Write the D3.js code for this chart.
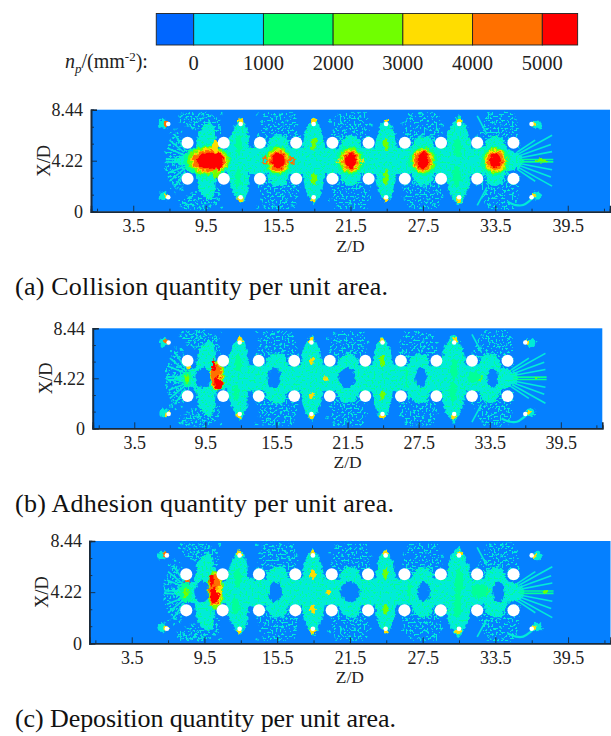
<!DOCTYPE html>
<html>
<head>
<meta charset="utf-8">
<script src="https://cdn.jsdelivr.net/npm/d3@7"></script>
<style>
  html, body { margin: 0; padding: 0; background: #fff; }
  text { font-family: "Liberation Serif", serif; fill: #222; }
</style>
</head>
<body>
<div id="chart"></div>
<script>
// legend
const legendBreaks = [0, 1000, 2000, 3000, 4000, 5000];
const legendLimits = [-537, 5507];
const legendColors = ['#0066ff', '#00d8ff', '#00ff66', '#70ff00', '#ffdd00', '#ff7000', '#ff0000'];
// the field looks softer than the legend once the picture is blurred
const fieldColors = ['#0580ff', '#00ecd8', '#00ff98', '#70ff00', '#ffdd00', '#ff7000', '#ff0000'];

// axes
const zTicks = [3.5, 9.5, 15.5, 21.5, 27.5, 33.5, 39.5];
const zMinor = [0.5, 6.5, 12.5, 18.5, 24.5, 30.5, 36.5, 42.5];
const xTicks = [0, 4.22, 8.44];
const xMinor = [1.41, 2.81, 5.63, 7.03];
const centerX = 4.22;

// film holes
const holeZ = [8, 11, 14, 17, 20, 23, 26, 29, 32, 35];
const holeX = [5.7, 2.72];
const smallHoleZ = [6.4, 12.4, 18.45, 24.45, 30.5, 36.5];
const smallHoleX = [7.25, 1.2];

const panelNames = ['a', 'b', 'c'];
const captions = [
  '(a) Collision quantity per unit area.',
  '(b) Adhesion quantity per unit area.',
  '(c) Deposition quantity per unit area.'
];

// solid cyan regions, upper half as [z, distance from centre line], mirrored when drawn
const bodies = [
  [[6.8,0],[7.4,0.35],[8,0.6],[8.7,0.9],[8.8,1.7],[8.9,2.4],[9.4,3],[9.8,3.3],[10.2,2.9],[10.3,2.2],[10.4,1],[11.4,0.9],[11.4,0]],
  [[11.3,0],[11.35,1.2],[11.6,2.2],[12,3],[12.4,3.6],[12.8,3.1],[13.05,2.2],[13.1,1.2],[13.2,0]],
  [[13,0],[13,1.1],[14.6,1.1],[14.7,1.7],[15.2,2.1],[16,2.1],[16.3,1.7],[16.4,1.1],[17.8,1.1],[17.8,0]],
  [[17.5,0],[17.55,1.2],[17.7,2.2],[18,3],[18.45,3.6],[18.9,3],[19.2,2.2],[19.4,1.2],[19.4,0]],
  [[19.2,0],[19.2,1.1],[20.6,1.1],[20.8,1.7],[21.3,2.1],[22,2],[22.3,1.6],[22.4,1.1],[23.7,1.1],[23.7,0]],
  [[23.6,0],[23.6,1.2],[23.75,2.2],[24.05,3],[24.45,3.5],[24.85,3],[25.15,2.2],[25.3,1.2],[25.4,0]],
  [[25.2,0],[25.2,1.1],[26.6,1.1],[26.8,1.7],[27.3,2.1],[28,2],[28.3,1.6],[28.4,1.1],[29.6,1.1],[29.6,0]],
  [[29.4,0],[29.4,1.2],[29.6,2.4],[30,3.2],[30.5,3.8],[30.9,3.1],[31.3,2.2],[31.5,1.2],[31.5,0]],
  [[31.3,0],[31.3,1.1],[32.6,1.1],[32.8,1.8],[33.3,2.1],[34,2],[34.3,1.4],[34.5,0.9],[35.3,0.7],[35.8,0.3],[35.9,0]]
];

// thinly scattered regions as closed [z, d] outlines, drawn on both sides of the centre line
const sparseZones = [
  [[6.1,0],[6.2,1],[6.9,2.4],[7.9,1.6],[8.3,1],[8.3,0]],
  [[7.2,3.2],[7.5,4],[9.5,4.1],[10.7,3.4],[10.8,2],[9.6,2.6],[8.4,2.7],[8,3]],
  [[13.4,1],[13.8,2.2],[14.4,4],[16.9,4],[17.3,2.4],[17.6,1]],
  [[19.5,1],[19.9,2.2],[20.3,4],[22.9,4],[23.1,2.4],[23.5,1]],
  [[25.5,1],[25.8,2.2],[26.3,4],[28.8,4],[29.1,2.4],[29.4,1]],
  [[31.6,1],[32,2],[32.8,4],[35,4.1],[35.4,3],[35.6,1]]
];

// scattered particle spots, upper half as [z, distance from centre line]
const specks = [
  [6.2,0.6],[6.4,0.2],[6.5,1.3],[6.7,0.8],[6.8,1.9],[6.9,0.3],[7,1.4],[7.1,2.2],[7.2,0.9],[7.3,1.8],[7.4,0.5],[7.5,1.2],[7.5,2.4],[7.6,2],[7.7,0.8],[6.6,2.3],[7,2.6],
  [7.4,3.7],[7.6,3.9],[7.9,3.6],[8.1,3.9],[8.3,3.5],[8.5,3.8],[8.8,3.6],[9,3.9],[9.2,3.5],[8.2,3.1],[8.6,3.2],[8.4,2.7],[8.7,2.6],[8,2.9],[9.3,3.8],[9.9,3.7],[10.3,3.5],[10.5,3.2],[10.6,2.7],[10.8,3.9],[7.7,3.4],[8.9,3.3],[9.5,3.6],
  [13.8,3.9],[14.1,3.2],[14.4,3.8],[14.6,2.6],[14.8,3.4],[15,2.2],[15.2,3.7],[15.5,2.7],[15.7,3.9],[16,2.2],[16.2,3.3],[16.4,2.7],[16.7,3.7],[16.9,2.2],[17,3],[17.2,1.6],[14.4,1.7],[13.6,1.2],[13.9,2],[15.3,2],[15.9,2.9],[16.6,1.5],
  [19.8,3.3],[20.1,2.4],[20.4,3.8],[20.6,2],[20.8,3.1],[21.1,2.5],[21.4,3.6],[21.6,2],[21.9,3],[22.2,2.2],[22.4,3.6],[22.7,2.7],[23,1.9],[23.2,3],[20.2,1.3],[22.8,1.3],[21.3,1.9],[21.8,2.4],
  [25.9,3.1],[26.2,2.2],[26.5,3.7],[26.7,1.9],[27,2.8],[27.3,3.9],[27.6,2.2],[27.9,3.2],[28.2,2],[28.4,3.6],[28.7,2.6],[29,1.6],[29.1,3],[26,1.3],[28.8,1.2],[27.2,2],[27.8,2.5],
  [32,2],[32.3,1.4],[32.7,2.6],[32.9,3.6],[33.2,2.3],[33.5,3.1],[33.8,2.2],[34.1,3.8],[34.3,2.6],[34.6,1.7],[34.9,2.8],[35.2,3.4],[35,1.3],[33.1,3.9],[33.6,2],[34,2.9]
];

// fan streaks as [z1, d1, z2, d2, value], mirrored when drawn
const streaks = [
  [7.9,0.15,6.2,0.1,500],[7.8,0.45,6.4,1,500],[7.7,0.7,6.5,1.7,500],[7.8,0.9,6.9,2.2,500],
  [35.5,0.1,38.3,0.1,1500],[35.6,0.25,38.2,0.75,500],[35.5,0.4,38.1,1.35,500],[35.4,0.55,38.2,2.1,500],[35.3,0.7,36.8,1.7,500],
  [32,3.7,32.8,2.2,500]
];

// swoosh below the last holes, true [z, x]
const swoosh = [[34.5,0.83],[35.2,0.55],[35.8,0.55],[36.4,0.95],[36.9,1.4]];

// blobs drawn in every panel, true [z, x, half width z, half width x, value]
const sharedBlobs = [
  [6,7.25,0.38,0.38,500],[6,1.3,0.38,0.38,500],[36.95,7.2,0.4,0.35,500],[36.95,1.35,0.4,0.35,500],
  [6.25,7.3,0.22,0.22,4500],[6.3,1.25,0.2,0.2,3500],[36.7,7.2,0.2,0.18,3500],[36.7,1.3,0.2,0.18,3500],
  [12.4,7.45,0.22,0.28,3500],[12.35,1.05,0.22,0.28,3500],[18.45,7.45,0.22,0.22,3500],[18.45,1,0.22,0.22,3500],
  [24.45,7.45,0.2,0.2,3500],[24.45,1,0.2,0.2,3500],[30.55,7.45,0.2,0.25,3500],[30.45,1,0.2,0.25,3500]
];

// hot spots per panel, true [z, x, half width z, half width x, value]
const blobsA = [
  [9.6,4.22,2,1.3,1500],[9.7,4.22,1.75,1.15,2500],[9.8,4.22,1.5,1,3500],[9.8,4.22,1.35,0.9,4500],[9.8,4.22,1.05,0.68,5500],[10.6,4.22,0.3,0.75,5500],
  [10.35,5.4,0.25,0.5,3500],[10.3,3.1,0.25,0.4,2500],[12.25,5.5,0.25,0.8,1500],[12.2,2.9,0.25,0.8,1500],
  [15.5,4.22,1.2,1.25,1500],[15.5,4.22,0.95,1.1,2500],[15.5,4.22,0.8,0.95,3500],[15.5,4.22,0.72,0.85,4500],[15.5,4.22,0.55,0.65,5500],
  [14.45,4.22,0.3,0.3,4500],[14.45,4.22,0.17,0.14,500],[16.6,4.22,0.3,0.3,4500],[16.6,4.22,0.17,0.14,500],
  [21.5,4.22,1.2,1.2,1500],[21.5,4.22,0.9,1.1,2500],[21.5,4.22,0.72,0.9,3500],[21.5,4.22,0.62,0.82,4500],[21.5,4.22,0.45,0.65,5500],
  [20.55,4.22,0.2,0.2,3500],[20.55,4.22,0.1,0.1,500],[22.45,4.22,0.2,0.2,3500],[22.45,4.22,0.1,0.1,500],
  [27.5,4.22,1.2,1.2,1500],[27.5,4.22,0.95,1.05,2500],[27.5,4.22,0.82,0.92,3500],[27.5,4.22,0.72,0.82,4500],[27.5,4.22,0.45,0.65,5500],
  [33.5,4.22,1.2,1.2,1500],[33.5,4.22,0.95,1.05,2500],[33.5,4.22,0.85,0.9,3500],[33.5,4.22,0.72,0.78,4500],[33.5,4.22,0.45,0.6,5500],
  [18.45,5.65,0.25,0.5,2500],[18.45,2.75,0.25,0.5,2500],[24.45,5.6,0.2,0.6,2500],[24.45,2.8,0.2,0.6,2500],[30.4,5.3,0.35,0.8,1500],[30.3,3,0.35,0.9,1500],[37.3,4.22,0.5,0.15,2500]
];
const blobsB = [
  [9.3,4.25,0.65,0.85,-100],[15.3,4.25,0.55,0.85,-100],[21.45,4.25,0.72,0.85,-100],[27.7,4.25,0.5,0.85,-100],[33.75,4.25,0.45,0.85,-100],
  [7.95,4.2,0.4,0.7,1500],[7.95,4.2,0.2,0.35,2500],[10.5,4.4,0.6,1.3,2500],[10.45,4.4,0.52,1.15,3500],[10.45,4.4,0.45,1.05,4500],[10.6,3.85,0.35,0.6,5500],[10.25,5.3,0.18,0.45,5500],[10.7,4.35,0.15,0.2,3500],
  [8.1,5.15,0.2,0.18,3500],[12.25,5.5,0.25,0.7,1500],[12.1,3,0.25,0.6,1500],[18.45,5.7,0.2,0.35,3500],[18.45,2.75,0.2,0.3,3500],[19.7,4.2,0.2,0.2,3500],
  [24.45,5.7,0.2,0.45,2500],[24.45,2.75,0.2,0.35,2500],[26.5,4.2,0.12,0.9,1500],[30.5,5,0.3,1,1500],[30.4,3.1,0.3,0.9,1500],[32.7,4.25,0.2,0.25,2500],[32.2,4.3,0.6,0.5,1500],[37.5,4.25,0.2,0.12,2500]
];
const blobsC = [
  [9.3,4.25,0.65,0.85,-100],[15.35,4.25,0.55,0.85,-100],[21.5,4.25,0.8,0.85,-100],[27.6,4.25,0.5,0.85,-100],[33.75,4.25,0.5,0.85,-100],
  [7.95,4.2,0.5,0.8,1500],[7.95,4.2,0.25,0.4,2500],[10.4,4.4,0.65,1.55,2500],[10.4,4.4,0.56,1.35,3500],[10.35,4.4,0.5,1.25,4500],[10.4,3.95,0.38,0.65,5500],[10.1,5.2,0.18,0.45,5500],[10.75,4.4,0.2,0.35,3500],
  [8.1,5.15,0.2,0.18,4500],[12.25,5.4,0.3,0.8,1500],[12.1,3,0.3,0.7,1500],[18.45,5.7,0.25,0.4,3500],[18.45,2.8,0.25,0.4,3500],[19.7,4.2,0.2,0.2,3500],
  [24.45,5.7,0.2,0.5,2500],[24.45,2.75,0.2,0.4,2500],[26.4,4.2,0.12,0.9,1500],[30.5,5,0.35,1.1,1500],[30.4,3.1,0.35,1,1500],[32.7,4.3,0.25,0.3,2500],[32.2,4.3,0.7,0.6,1500],[37.6,4.25,0.2,0.14,2500]
];

// where each frame sits on the page
const panels = [
  { left: 91, right: 610, top: 109.7, bottom: 211.7, blobs: blobsA, labelRight: 83, xdX: 50, zdY: 251.5, capY: 295, capW: 373 },
  { left: 92.8, right: 602.3, top: 328.3, bottom: 428.3, blobs: blobsB, labelRight: 85, xdX: 52, zdY: 468, capY: 512, capW: 379 },
  { left: 89.3, right: 610.5, top: 541, bottom: 643.3, blobs: blobsC, labelRight: 82, xdX: 48, zdY: 683, capY: 727, capW: 381 }
];

const svg = d3.select('#chart').append('svg')
  .attr('width', 611)
  .attr('height', 736)
  .style('display', 'block');

const defs = svg.append('defs');

// ragged edges for the solid marks
const rough = defs.append('filter').attr('id', 'rough')
  .attr('x', '0').attr('y', '0').attr('width', '100%').attr('height', '100%')
  .attr('color-interpolation-filters', 'sRGB');
rough.append('feTurbulence').attr('type', 'fractalNoise').attr('baseFrequency', 0.28).attr('numOctaves', 2).attr('seed', 4).attr('result', 'n');
rough.append('feDisplacementMap').attr('in', 'SourceGraphic').attr('in2', 'n').attr('scale', 6).attr('xChannelSelector', 'R').attr('yChannelSelector', 'G').attr('result', 'd');
rough.append('feGaussianBlur').attr('in', 'd').attr('stdDeviation', 0.45);

defs.append('filter').attr('id', 'soft').append('feGaussianBlur').attr('stdDeviation', 0.4);

// grainy mask for the scattered regions
function grainFilter(id, seed, table) {
  const f = defs.append('filter').attr('id', id)
    .attr('x', '0').attr('y', '0').attr('width', '100%').attr('height', '100%')
    .attr('color-interpolation-filters', 'sRGB');
  f.append('feTurbulence').attr('type', 'fractalNoise').attr('baseFrequency', 0.5).attr('numOctaves', 2).attr('seed', seed).attr('result', 'n');
  f.append('feComponentTransfer').attr('in', 'n').attr('result', 'm')
    .append('feFuncA').attr('type', 'discrete').attr('tableValues', table);
  f.append('feComposite').attr('in', 'SourceGraphic').attr('in2', 'm').attr('operator', 'in').attr('result', 'c');
  f.append('feGaussianBlur').attr('in', 'c').attr('stdDeviation', 0.4);
}
grainFilter('sparse', 7, '0 0 0 0 0 0 0 0 0 0 0 0 1 1 1 1 1 1 1 1');
grainFilter('dense', 11, '0 0 0 0 0 0 0 0 0 0 0 0 1 1 1 1 1 1 1 1');

// colour bar
const legendX = d3.scaleLinear().domain([0, 5000]).range([193.7, 542.3]);
const legendEdges = [legendLimits[0], ...legendBreaks, legendLimits[1]];
const legend = svg.append('g');
legend.selectAll('rect').data(legendColors).join('rect')
  .attr('x', (d, i) => legendX(legendEdges[i]))
  .attr('y', 13.5)
  .attr('width', (d, i) => legendX(legendEdges[i + 1]) - legendX(legendEdges[i]))
  .attr('height', 31.5)
  .attr('fill', d => d)
  .attr('stroke', '#222')
  .attr('stroke-width', 0.9);
legend.selectAll('text.num').data(legendBreaks).join('text')
  .attr('class', 'num')
  .attr('x', d => legendX(d))
  .attr('y', 70)
  .attr('text-anchor', 'middle')
  .style('font-size', '20.5px')
  .text(d => d);

const legendTitle = legend.append('text').attr('x', 65).attr('y', 68).style('font-size', '20px');
legendTitle.append('tspan').style('font-style', 'italic').text('n');
legendTitle.append('tspan').attr('dy', 5).style('font-style', 'italic').style('font-size', '13px').text('p');
legendTitle.append('tspan').attr('dy', -5).text('/(mm');
legendTitle.append('tspan').attr('dy', -7).style('font-size', '13px').text('-2');
legendTitle.append('tspan').attr('dy', 7).text('):');

const fieldColor = d3.scaleThreshold().domain(legendBreaks).range(fieldColors);

panels.forEach((p, idx) => {
  const z = d3.scaleLinear().domain([0, 43]).range([p.left, p.right]);
  const x = d3.scaleLinear().domain([0, 8.44]).range([p.bottom, p.top]);
  const g = svg.append('g').attr('id', 'panel-' + panelNames[idx]);

  const clipId = 'clip-' + panelNames[idx];
  defs.append('clipPath').attr('id', clipId).append('rect')
    .attr('x', p.left).attr('y', p.top)
    .attr('width', p.right - p.left).attr('height', p.bottom - p.top);

  g.append('rect')
    .attr('x', p.left).attr('y', p.top)
    .attr('width', p.right - p.left).attr('height', p.bottom - p.top)
    .attr('fill', fieldColors[0]);

  const clipped = g.append('g').attr('clip-path', `url(#${clipId})`);

  const outline = d3.line().x(d => z(d[0])).y(d => x(d[1])).curve(d3.curveLinearClosed);
  const mirrored = b => outline([
    ...b.map(d => [d[0], centerX + d[1]]),
    ...b.slice().reverse().map(d => [d[0], centerX - d[1]])
  ]);

  // scattered regions
  const sparse = clipped.append('g').attr('filter', 'url(#sparse)');
  [1, -1].forEach(side => {
    sparse.append('g').selectAll('path').data(sparseZones).join('path')
      .attr('d', b => outline(b.map(d => [d[0], centerX + side * d[1]])))
      .attr('fill', fieldColor(500));
  });

  const field = clipped.append('g').attr('filter', 'url(#rough)');

  // bodies
  field.selectAll('path.body').data(bodies).join('path')
    .attr('class', 'body')
    .attr('d', mirrored)
    .attr('fill', fieldColor(500));

  // specks
  [1, -1].forEach(side => {
    field.append('g').selectAll('circle').data(specks).join('circle')
      .attr('cx', d => z(d[0]))
      .attr('cy', d => x(centerX + side * d[1]))
      .attr('r', 1.1)
      .attr('fill', fieldColor(500));
  });

  // streaks stay straight, so no displacement here
  const rays = clipped.append('g').attr('filter', 'url(#soft)');
  [1, -1].forEach(side => {
    rays.append('g').selectAll('line').data(streaks).join('line')
      .attr('x1', d => z(d[0])).attr('y1', d => x(centerX + side * d[1]))
      .attr('x2', d => z(d[2])).attr('y2', d => x(centerX + side * d[3]))
      .attr('stroke', d => fieldColor(d[4]))
      .attr('stroke-width', 1.6);
  });

  rays.append('path')
    .attr('d', d3.line().x(d => z(d[0])).y(d => x(d[1])).curve(d3.curveCatmullRom)(swoosh))
    .attr('fill', 'none')
    .attr('stroke', fieldColor(500))
    .attr('stroke-width', 2.2);

  // green mottling over the bodies
  clipped.append('g').attr('filter', 'url(#dense)')
    .selectAll('path').data(bodies).join('path')
    .attr('d', mirrored)
    .attr('fill', fieldColor(1500));

  // blobs, in listed order
  clipped.append('g').attr('filter', 'url(#rough)')
    .selectAll('ellipse').data([...sharedBlobs, ...p.blobs]).join('ellipse')
    .attr('cx', d => z(d[0]))
    .attr('cy', d => x(d[1]))
    .attr('rx', d => z(d[2]) - z(0))
    .attr('ry', d => x(0) - x(d[3]))
    .attr('fill', d => fieldColor(d[4]));

  // holes
  const holes = d3.cross(holeZ, holeX);
  g.append('g').selectAll('circle').data(holes).join('circle')
    .attr('cx', d => z(d[0])).attr('cy', d => x(d[1]))
    .attr('r', z(0.5) - z(0))
    .attr('fill', '#fff');
  const smallHoles = d3.cross(smallHoleZ, smallHoleX);
  g.append('g').selectAll('circle').data(smallHoles).join('circle')
    .attr('cx', d => z(d[0])).attr('cy', d => x(d[1]))
    .attr('r', z(0.19) - z(0))
    .attr('fill', '#fff');

  // axes
  const bottomMinor = d3.axisBottom(z).tickValues(zMinor).tickSize(-3).tickFormat('');
  const leftMinor = d3.axisLeft(x).tickValues(xMinor).tickSize(-3).tickFormat('');
  const bottomAxis = d3.axisBottom(z).tickValues(zTicks).tickSize(-6).tickPadding(8).tickFormat(d3.format('.1f'));
  const leftAxis = d3.axisLeft(x).tickValues(xTicks).tickSize(-6)
    .tickPadding(p.left - p.labelRight).tickFormat(d => d === 0 ? '0' : d3.format('.2f')(d));

  [[bottomMinor, `translate(0,${p.bottom})`], [bottomAxis, `translate(0,${p.bottom})`],
   [leftMinor, `translate(${p.left},0)`], [leftAxis, `translate(${p.left},0)`]].forEach(([axis, t]) => {
    const a = g.append('g').attr('transform', t).call(axis);
    a.selectAll('path.domain').attr('stroke', '#1a2a3a').attr('stroke-width', 1.6);
    a.selectAll('line').attr('stroke', '#1a2a3a').attr('stroke-width', 0.9);
    a.selectAll('text').style('font-family', '"Liberation Serif", serif').style('font-size', '18px').attr('fill', '#222');
  });

  g.append('text')
    .attr('x', z(21.5))
    .attr('y', p.zdY)
    .attr('text-anchor', 'middle')
    .style('font-size', '17.5px')
    .text('Z/D');

  g.append('text')
    .attr('transform', `translate(${p.xdX},${(p.top + p.bottom) / 2}) rotate(-90)`)
    .attr('text-anchor', 'middle')
    .style('font-size', '18.5px')
    .text('X/D');

  g.append('text')
    .attr('x', 15)
    .attr('y', p.capY)
    .attr('textLength', p.capW)
    .attr('lengthAdjust', 'spacing')
    .style('font-size', '26px')
    .style('fill', '#111')
    .text(captions[idx]);
});
</script>
</body>
</html>
